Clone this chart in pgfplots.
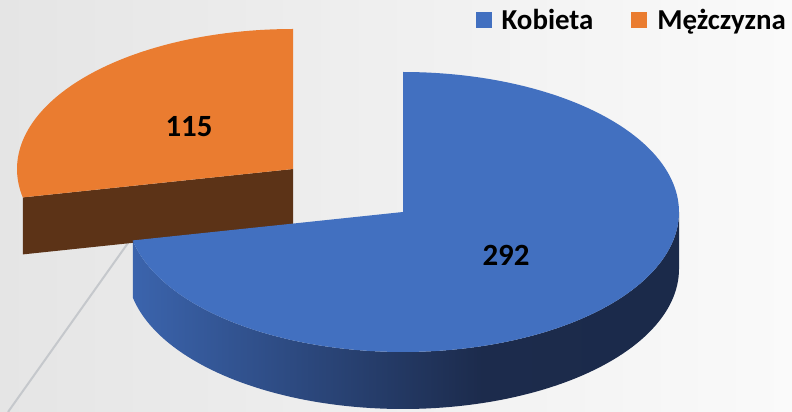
\documentclass[border=0pt]{standalone}
\usepackage{pgfplots}
\pgfplotsset{compat=1.18}
\usepackage{pgfplotstable}
\usepgfplotslibrary{fillbetween}
\usepackage{fontspec}
\setmainfont{Carlito}

\definecolor{kob}{HTML}{4270C0}
\definecolor{mez}{HTML}{EA7C30}
\definecolor{mezside}{HTML}{D2712B}
\definecolor{brn}{HTML}{5C3317}
\definecolor{bsA}{HTML}{3B64AD}
\definecolor{bsB}{HTML}{1C2B4C}
\definecolor{bsC}{HTML}{1B2A4A}
\definecolor{bgL}{HTML}{E5E5E5}
\definecolor{bgR}{HTML}{FAFAFA}
\definecolor{lineg}{HTML}{C5C8CC}

\pgfdeclarehorizontalshading{blueside}{100bp}{color(0bp)=(bsA); color(25bp)=(bsA); color(57bp)=(bsB); color(75bp)=(bsC); color(100bp)=(bsC)}

\pgfplotstableread{
group value
Kobieta 292
Mezczyzna 115
}\piedata
\pgfplotstablegetelem{0}{value}\of\piedata \let\vK\pgfplotsretval
\pgfplotstablegetelem{1}{value}\of\piedata \let\vM\pgfplotsretval
\pgfmathsetmacro\tA{90}
\pgfmathsetmacro\frac{\vM/(\vK+\vM)}
\pgfmathsetmacro\tB{90+360*\frac}
% geometry (pixels)
\def\rx{276}\def\ry{140}\def\dep{57}
\def\bx{403}\def\by{212}
\def\ox{293}\def\oy{169}
\pgfmathsetmacro\oex{\ox+\rx*cos(\tB)}
\pgfmathsetmacro\oey{\oy-\ry*sin(\tB)}
\pgfmathsetmacro\oeyd{\oey+\dep}
\pgfmathsetmacro\oyd{\oy+\dep}

\begin{document}
\begin{tikzpicture}
\begin{axis}[
  scale only axis, width=792bp, height=412bp,
  xmin=0, xmax=792, ymin=0, ymax=412, y dir=reverse,
  hide axis, clip=true,
  legend columns=2,
  legend image code/.code={\fill[#1, draw=none] (0bp,-8bp) rectangle (16bp,8bp);},
  legend style={draw=none, fill=none, at={(axis cs:788,20)}, anchor=east,
    inner sep=0pt, outer sep=0pt,
    font=\fontsize{29}{32}\selectfont\bfseries,
    /tikz/every odd column/.append style={column sep=8bp},
    /tikz/every even column/.append style={column sep=36bp}},
]
% background
\addplot[forget plot, draw=none, left color=bgL, right color=bgR] coordinates {(0,0) (792,0) (792,412) (0,412)} -- cycle;
% decorative line
\addplot[forget plot, color=lineg, line width=2bp] coordinates {(128,243) (8,412)};

% orange slice: cut face
\addplot[forget plot, draw=none, fill=brn] coordinates {(\ox,\oy) (\oex,\oey) (\oex,\oeyd) (\ox,\oyd)} -- cycle;
% orange curved side
\addplot[forget plot, name path=otop, draw=none, domain=180:\tB, samples=20] ({\ox+\rx*cos(x)},{\oy-\ry*sin(x)});
\addplot[forget plot, name path=obot, draw=none, domain=180:\tB, samples=20] ({\ox+\rx*cos(x)},{\oy+\dep-\ry*sin(x)});
\addplot[forget plot, fill=mezside, draw=none] fill between[of=otop and obot];
% orange top
\addplot[forget plot, draw=none, fill=mez, domain=\tA:\tB, samples=80] ({\ox+\rx*cos(x)},{\oy-\ry*sin(x)}) -- (axis cs:\ox,\oy) -- cycle;

% blue side (shaded)
\shade[shading=blueside] plot[domain=\tB:360, samples=100, variable=\t] (axis cs:{\bx+\rx*cos(\t)},{\by-\ry*sin(\t)})
   -- plot[domain=360:\tB, samples=100, variable=\t] (axis cs:{\bx+\rx*cos(\t)},{\by+\dep-\ry*sin(\t)}) -- cycle;
% blue top
\addplot[forget plot, draw=none, fill=kob, domain=\tB:450, samples=160] ({\bx+\rx*cos(x)},{\by-\ry*sin(x)}) -- (axis cs:\bx,\by) -- cycle;

% labels
\node[font=\fontsize{31}{31}\selectfont\bfseries] at (axis cs:189,127) {\vM};
\node[font=\fontsize{31}{31}\selectfont\bfseries] at (axis cs:506,255) {\vK};

\addlegendimage{fill=kob}
\addlegendentry{Kobieta}
\addlegendimage{fill=mez}
\addlegendentry{Mężczyzna}
\end{axis}
\end{tikzpicture}
\end{document}
